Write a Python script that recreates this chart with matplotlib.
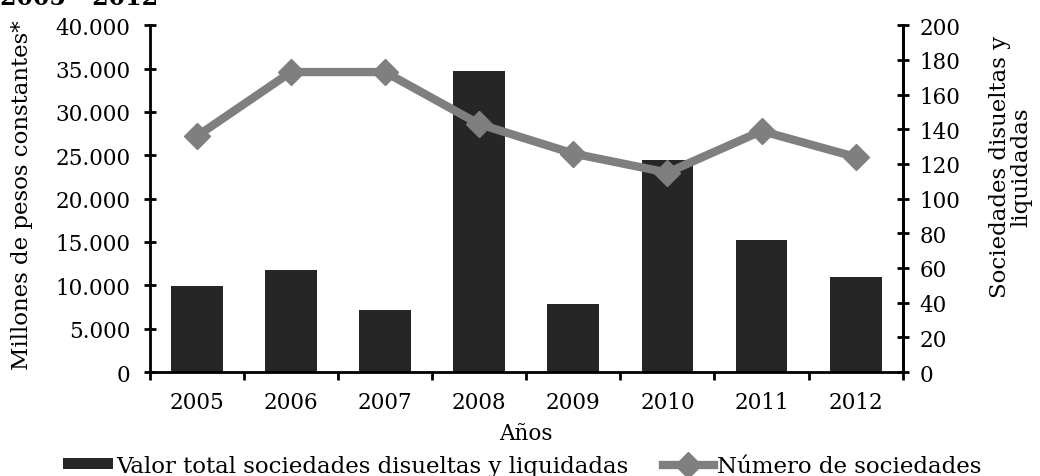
import matplotlib.pyplot as plt
from matplotlib.ticker import FuncFormatter, FixedLocator

plt.rcParams['font.family'] = ['DejaVu Serif']

years = ['2005', '2006', '2007', '2008', '2009', '2010', '2011', '2012']
valor = [9900, 11800, 7150, 34700, 7900, 24500, 15250, 10950]
numero = [136, 173, 173, 143, 126, 115, 139, 124]

fig = plt.figure(figsize=(10.4, 4.77), dpi=100)
ax = fig.add_axes([0.144, 0.218, 0.724, 0.727])
x = list(range(len(years)))

bars = ax.bar(x, valor, width=0.55, color='#262626',
              label='Valor total sociedades disueltas y liquidadas')
ax.set_xlim(-0.5, len(years) - 0.5)
ax.set_ylim(0, 40000)
ax.set_yticks(range(0, 40001, 5000))
ax.yaxis.set_major_formatter(FuncFormatter(lambda v, p: f'{int(v):,}'.replace(',', '.')))
ax.set_xticks(x)
ax.set_xticklabels(years)
ax.xaxis.set_minor_locator(FixedLocator([i - 0.5 for i in range(len(years) + 1)]))
ax.tick_params(axis='x', which='major', length=0, labelsize=15.5, pad=14)
ax.tick_params(axis='x', which='minor', length=6, width=2, direction='out')
ax.tick_params(axis='y', length=8, width=2, direction='inout', labelsize=15.5, pad=10)
ax.spines['top'].set_visible(False)
for s in ['left', 'bottom', 'right']:
    ax.spines[s].set_linewidth(2)
ax.set_xlabel('Años', fontsize=15.5, labelpad=6)
ax.set_ylabel('Millones de pesos constantes*', fontsize=16.5)
ax.yaxis.set_label_coords(-0.17, 0.513)
ax.yaxis.label.set_va('center')
ax.yaxis.label.set_ha('center')

ax2 = ax.twinx()
line, = ax2.plot(x, numero, color='#7f7f7f', linewidth=6, marker='D',
                 markersize=13, label='Número de sociedades')
ax2.set_ylim(0, 200)
ax2.set_yticks(range(0, 201, 20))
ax2.tick_params(axis='y', length=8, width=2, direction='inout', labelsize=15.5, pad=8)
ax2.spines['top'].set_visible(False)
ax2.spines['right'].set_linewidth(2)
ax2.set_ylabel('Sociedades disueltas y\nliquidadas', fontsize=16.5, linespacing=0.95)
ax2.yaxis.set_label_coords(1.143, 0.594)
ax2.yaxis.label.set_va('center')
ax2.yaxis.label.set_ha('center')

fig.text(0.0, 1.004, '2005 - 2012', fontsize=17, fontweight='bold', va='center', ha='left')

fig.legend([bars, line], [bars.get_label(), line.get_label()],
           loc='lower center', bbox_to_anchor=(0.502, -0.045), ncol=2, frameon=False,
           fontsize=16.5, handlelength=2.2, handleheight=0.35, handletextpad=0.15,
           columnspacing=1.5)

fig.savefig('out.png', dpi=100)
